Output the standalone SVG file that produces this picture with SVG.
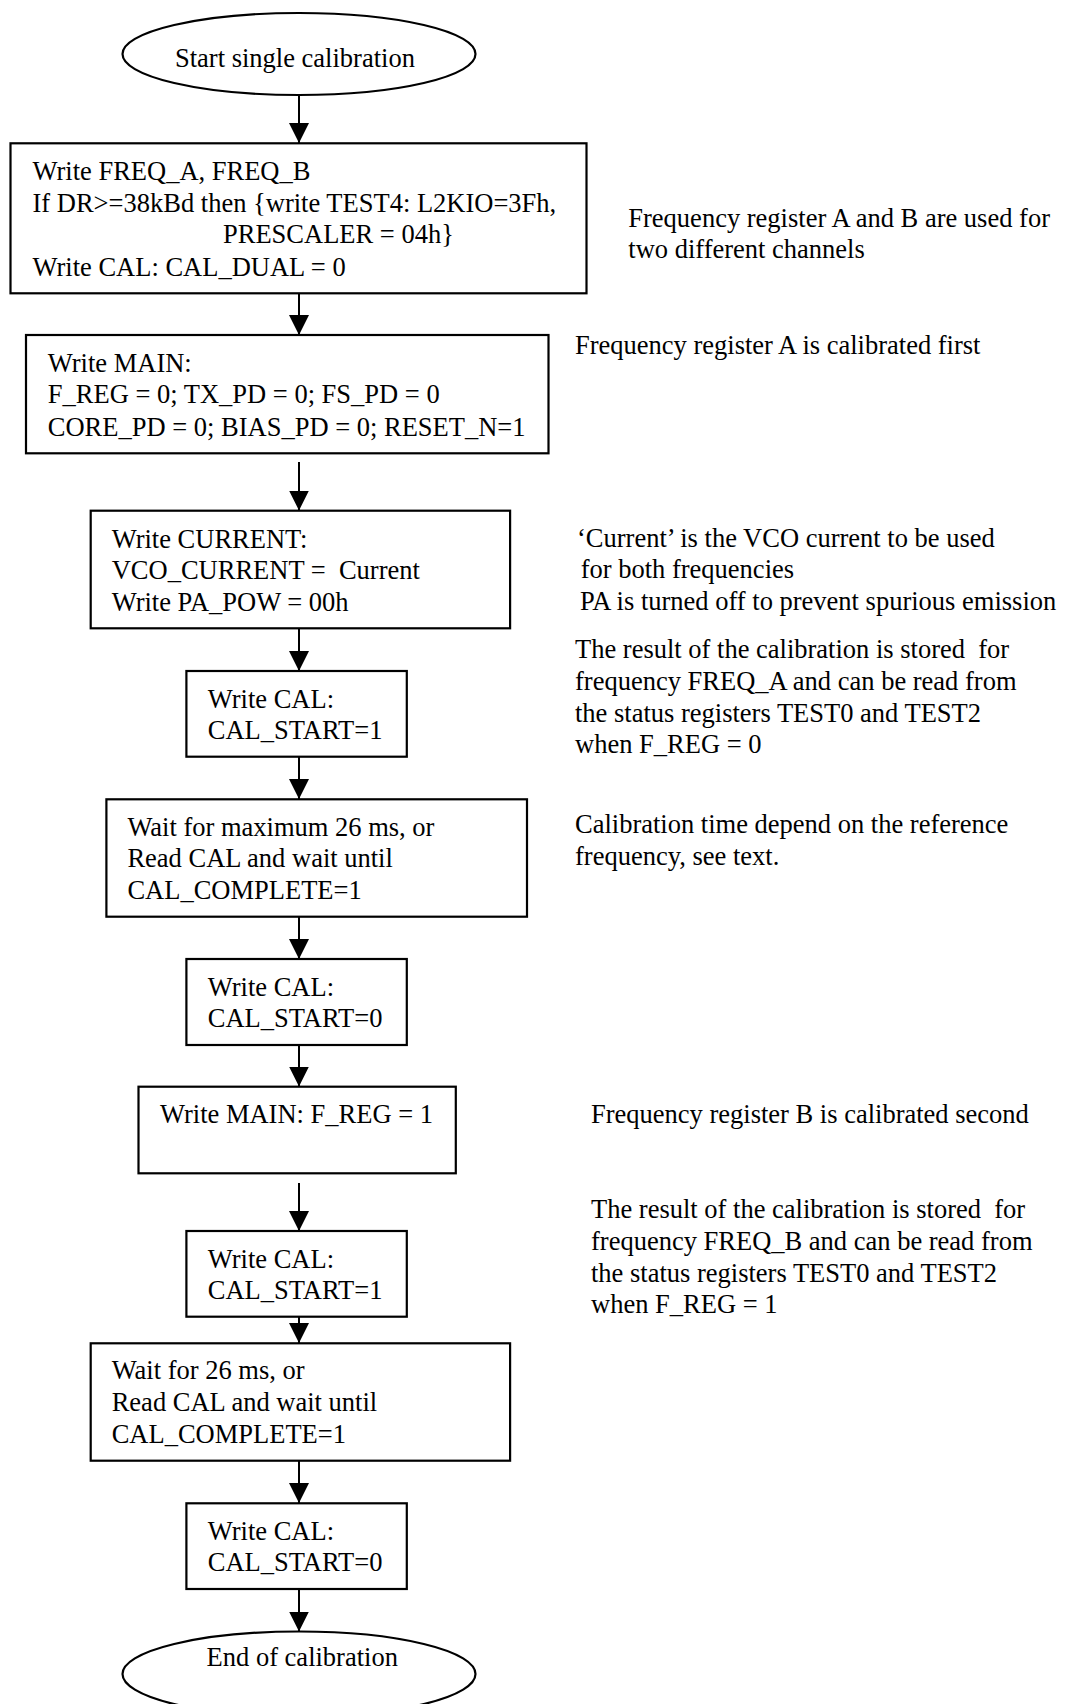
<svg xmlns="http://www.w3.org/2000/svg" width="1066" height="1704" viewBox="0 0 1066 1704">
<style>
text{font-family:"Liberation Serif","Times New Roman",serif;font-size:26.5px;fill:#000}
.box{fill:#fff;stroke:#000;stroke-width:2.2}
.conn line{stroke:#000;stroke-width:2}
</style>
<defs>
<marker id="arr" viewBox="0 0 20 20" refX="20" refY="10" markerWidth="20" markerHeight="20" markerUnits="userSpaceOnUse" orient="auto">
<path d="M0,0 L20,10 L0,20 z" fill="#000"/>
</marker>
</defs>
<rect width="1066" height="1704" fill="#fff"/>

<g class="conn" id="connectors">
<line x1="299" y1="95" x2="299" y2="143" marker-end="url(#arr)"/>
<line x1="299" y1="293" x2="299" y2="335" marker-end="url(#arr)"/>
<line x1="299" y1="462" x2="299" y2="510.5" marker-end="url(#arr)"/>
<line x1="299" y1="628" x2="299" y2="671" marker-end="url(#arr)"/>
<line x1="299" y1="756.5" x2="299" y2="799" marker-end="url(#arr)"/>
<line x1="299" y1="916.5" x2="299" y2="959" marker-end="url(#arr)"/>
<line x1="299" y1="1045" x2="299" y2="1086.5" marker-end="url(#arr)"/>
<line x1="299" y1="1183" x2="299" y2="1231" marker-end="url(#arr)"/>
<line x1="299" y1="1316.5" x2="299" y2="1343" marker-end="url(#arr)"/>
<line x1="299" y1="1460.5" x2="299" y2="1503" marker-end="url(#arr)"/>
<line x1="299" y1="1589" x2="299" y2="1631.5" marker-end="url(#arr)"/>
</g>

<g id="start">
<ellipse class="box" cx="299" cy="54" rx="176.5" ry="41"/>
<text x="175" y="66.7">Start single calibration</text>
</g>

<g id="n1">
<rect class="box" x="10.5" y="143.3" width="576" height="150"/>
<text x="32.5" y="180">Write FREQ_A, FREQ_B</text>
<text x="32.5" y="211.7">If DR&gt;=38kBd then {write TEST4: L2KIO=3Fh,</text>
<text x="223" y="243.3">PRESCALER = 04h}</text>
<text x="32.5" y="275.7">Write CAL: CAL_DUAL = 0</text>
</g>

<g id="n2">
<rect class="box" x="26" y="335" width="522.5" height="118.3"/>
<text x="47.8" y="371.7">Write MAIN:</text>
<text x="47.8" y="403.3">F_REG = 0; TX_PD = 0; FS_PD = 0</text>
<text x="47.8" y="436">CORE_PD = 0; BIAS_PD = 0; RESET_N=1</text>
</g>

<g id="n3">
<rect class="box" x="90.7" y="510.7" width="419.4" height="117.6"/>
<text x="111.7" y="548.3">Write CURRENT:</text>
<text x="111.7" y="579.3">VCO_CURRENT =&#160; Current</text>
<text x="111.7" y="610.7">Write PA_POW = 00h</text>
</g>

<g id="n4">
<rect class="box" x="186.4" y="671" width="220.4" height="85.7"/>
<text x="207.8" y="708.3">Write CAL:</text>
<text x="207.8" y="739.3">CAL_START=1</text>
</g>

<g id="n5">
<rect class="box" x="106.4" y="799.3" width="420.6" height="117.4"/>
<text x="127.4" y="836">Wait for maximum 26 ms, or</text>
<text x="127.4" y="867.3">Read CAL and wait until</text>
<text x="127.4" y="899.3">CAL_COMPLETE=1</text>
</g>

<g id="n6">
<rect class="box" x="186.4" y="959" width="220.4" height="86"/>
<text x="207.8" y="996">Write CAL:</text>
<text x="207.8" y="1027.3">CAL_START=0</text>
</g>

<g id="n7">
<rect class="box" x="138.5" y="1086.7" width="317.3" height="86.6"/>
<text x="160" y="1123.3">Write MAIN: F_REG = 1</text>
</g>

<g id="n8">
<rect class="box" x="186.4" y="1231" width="220.4" height="85.7"/>
<text x="207.8" y="1268.3">Write CAL:</text>
<text x="207.8" y="1299.3">CAL_START=1</text>
</g>

<g id="n9">
<rect class="box" x="90.7" y="1343.3" width="419.4" height="117.4"/>
<text x="111.7" y="1379.3">Wait for 26 ms, or</text>
<text x="111.7" y="1411">Read CAL and wait until</text>
<text x="111.7" y="1443.3">CAL_COMPLETE=1</text>
</g>

<g id="n10">
<rect class="box" x="186.4" y="1503.3" width="220.4" height="85.7"/>
<text x="207.8" y="1540">Write CAL:</text>
<text x="207.8" y="1571">CAL_START=0</text>
</g>

<g id="end">
<ellipse class="box" cx="299" cy="1674" rx="176.5" ry="42.5"/>
<text x="206.6" y="1666">End of calibration</text>
</g>

<g id="notes">
<text x="628.3" y="226.7">Frequency register A and B are used for</text>
<text x="628.3" y="258.3">two different channels</text>
<text x="575" y="354.3">Frequency register A is calibrated first</text>
<text x="577" y="546.7">‘Current’ is the VCO current to be used</text>
<text x="580.7" y="578.3">for both frequencies</text>
<text x="580" y="610">PA is turned off to prevent spurious emission</text>
<text x="575" y="658.3">The result of the calibration is stored&#160; for</text>
<text x="575" y="690">frequency FREQ_A and can be read from</text>
<text x="575" y="721.7">the status registers TEST0 and TEST2</text>
<text x="575" y="753.3">when F_REG = 0</text>
<text x="575" y="833.3">Calibration time depend on the reference</text>
<text x="575" y="865">frequency, see text.</text>
<text x="591" y="1122.7">Frequency register B is calibrated second</text>
<text x="591" y="1218.3">The result of the calibration is stored&#160; for</text>
<text x="591" y="1250">frequency FREQ_B and can be read from</text>
<text x="591" y="1281.7">the status registers TEST0 and TEST2</text>
<text x="591" y="1313.3">when F_REG = 1</text>
</g>
</svg>
